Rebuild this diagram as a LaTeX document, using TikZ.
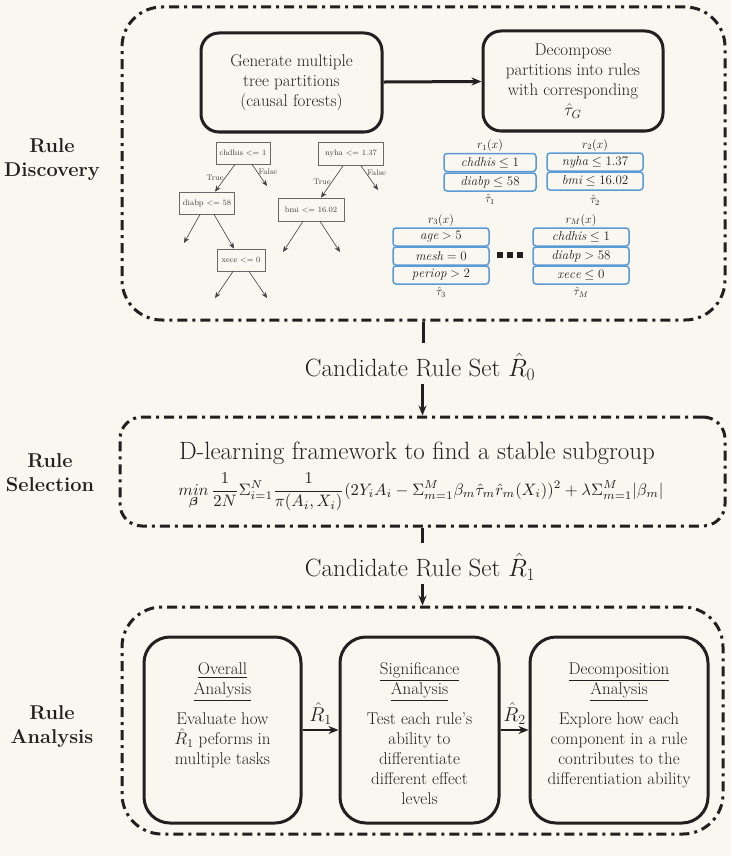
\documentclass[tikz,border=0pt]{standalone}
\usepackage{fix-cm}
\usepackage{amsmath}
\usepackage{amssymb}
\usepackage{graphicx}
\usepackage{fontspec}
\usetikzlibrary{arrows.meta,positioning}
\definecolor{paper}{RGB}{250,246,240}
\definecolor{ink}{RGB}{35,31,32}
\definecolor{rulebl}{RGB}{91,155,213}
\definecolor{treegray}{RGB}{105,105,105}

\begin{document}
\begin{tikzpicture}[x=1pt, y=-1pt, color=ink,
  phase frame/.style={draw=ink, line width=3pt, dash pattern=on 10pt off 5pt on 3pt off 5pt, rounded corners=40pt},
  phase label/.style={font=\fontsize{20}{24}\selectfont\bfseries, align=center},
  stage box/.style={draw=ink, line width=3pt, rounded corners=18pt, align=center, font=\fontsize{17}{20}\selectfont},
  stage text/.style={align=center, font=\fontsize{17}{20}\selectfont, inner sep=0pt},
  big text/.style={font=\fontsize{25}{30}\selectfont},
  split node/.style={draw=treegray, line width=0.8pt, font=\fontsize{8}{9}\selectfont, text=black!75, inner sep=0pt},
  split label/.style={font=\fontsize{8}{9}\selectfont, text=black!70, inner sep=1pt},
  split edge/.style={draw=black!75, line width=0.6pt, -{Stealth[length=6pt,width=5pt]}},
  rule box/.style={draw=rulebl, line width=1.5pt, rounded corners=3pt, minimum height=18pt, inner sep=0pt, font=\fontsize{13}{15}\selectfont},
  rule name/.style={font=\fontsize{12}{14}\selectfont, inner sep=1pt},
  flow arrow/.style={draw=ink, line width=2pt, -{Stealth[length=10pt,width=8pt]}},
]
\fill[paper] (0,0) rectangle (731,856);
\useasboundingbox (0,0) rectangle (731,856);

% the three phases
\node[phase frame, minimum width=603pt, minimum height=313pt] (disc) at (423.5,163.5) {};
\node[phase frame, minimum width=605pt, minimum height=109pt, rounded corners=22pt] (sel) at (422.5,471.5) {};
\node[phase frame, minimum width=601pt, minimum height=227pt] (ana) at (422.5,720.5) {};
\node[phase label] (discl) at (52,160) {Rule\\Discovery};
\node[phase label] (sell) at (50,473) {Rule\\Selection};
\node[phase label] (anal) at (52,727) {Rule\\Analysis};

% discovery
\node[stage box, minimum width=181pt, minimum height=99pt] (gen) at (291.5,82.5) {Generate multiple\\tree partitions\\(causal forests)};
\node[stage box, minimum width=180pt, minimum height=100pt] (dec) at (573,81) {Decompose\\partitions into rules\\with corresponding\\$\hat{\tau}_G$};
\draw[flow arrow, line width=3pt] (gen) -- (dec);

\node[split node, minimum width=54pt, minimum height=22pt] (chd) at (243,153) {chdhis <= 1};
\node[split node, minimum width=55pt, minimum height=22pt] (dia) at (207,203) {diabp <= 58};
\node[split node, minimum width=48pt, minimum height=22pt] (xec) at (241,260) {xece <= 0};
\node[split node, minimum width=65pt, minimum height=23pt] (nyh) at (351,154) {nyha <= 1.37};
\node[split node, minimum width=66pt, minimum height=23pt] (bmi) at (311,209.5) {bmi <= 16.02};
\coordinate (lf1) at (267,186);
\coordinate (lf2) at (184,243);
\coordinate (lf3) at (215,298);
\coordinate (lf4) at (267,298);
\coordinate (lf5) at (378,190);
\coordinate (lf6) at (283,252);
\coordinate (lf7) at (340,252);
\draw[split edge] ([xshift=-8pt]chd.south) -- node[split label, left] {True} ([xshift=8pt]dia.north);
\draw[split edge] ([xshift=9pt]chd.south) -- node[split label, pos=.35, right] {False} (lf1);
\draw[split edge] ([xshift=-7pt]dia.south) -- (lf2);
\draw[split edge] ([xshift=7pt]dia.south) -- ([xshift=-7pt]xec.north);
\draw[split edge] ([xshift=-8pt]xec.south) -- (lf3);
\draw[split edge] ([xshift=8pt]xec.south) -- (lf4);
\draw[split edge] ([xshift=-8pt]nyh.south) -- node[split label, left] {True} ([xshift=10pt]bmi.north);
\draw[split edge] ([xshift=10pt]nyh.south) -- node[split label, pos=.3, right] {False} (lf5);
\draw[split edge] ([xshift=-8pt]bmi.south) -- (lf6);
\draw[split edge] ([xshift=9pt]bmi.south) -- (lf7);

\node[rule box, minimum width=92pt] (r1a) at (490,162.5) {$\mathit{chdhis} \leq 1$};
\node[rule box, minimum width=92pt] (r1b) at (490,182) {$\mathit{diabp} \leq 58$};
\node[rule name, above=0pt of r1a] (r1n) {$r_1(x)$};
\node[rule name, below=1pt of r1b] (t1n) {$\hat{\tau}_1$};
\node[rule box, minimum width=96pt] (r2a) at (595,162) {$\mathit{nyha} \leq 1.37$};
\node[rule box, minimum width=96pt] (r2b) at (595,181) {$\mathit{bmi} \leq 16.02$};
\node[rule name, above=0pt of r2a] (r2n) {$r_2(x)$};
\node[rule name, below=3pt of r2b] (t2n) {$\hat{\tau}_2$};
\node[rule box, minimum width=96pt] (r3a) at (441,237) {$\mathit{age} > 5$};
\node[rule box, minimum width=96pt] (r3b) at (441,256) {$\mathit{mesh} = 0$};
\node[rule box, minimum width=96pt] (r3c) at (441,275) {$\mathit{periop} > 2$};
\node[rule name, above=0pt of r3a] (r3n) {$r_3(x)$};
\node[rule name, below=1pt of r3c] (t3n) {$\hat{\tau}_3$};
\node[rule box, minimum width=96pt] (rMa) at (581,237) {$\mathit{chdhis} \leq 1$};
\node[rule box, minimum width=96pt] (rMb) at (581,256) {$\mathit{diabp} > 58$};
\node[rule box, minimum width=96pt] (rMc) at (581,275) {$\mathit{xece} \leq 0$};
\node[rule name, above=0pt of rMa] (rMn) {$r_M(x)$};
\node[rule name, below=1pt of rMc] (tMn) {$\hat{\tau}_M$};
\node[inner sep=0pt] (dots) at (510,255) {\rule{6pt}{6pt}\hspace{4pt}\rule{6pt}{6pt}\hspace{4pt}\rule{6pt}{6pt}};

% selection
\node[big text] (cand0) at (420,367) {Candidate Rule Set $\hat{R}_0$};
\draw[line width=3pt, shorten >=7pt] (disc.south) -- (disc.south |- cand0.north);
\draw[flow arrow, line width=2.5pt] (cand0.south -| sel.north) -- (sel.north);
\node[big text] (dlt) at (417,453) {D-learning framework to find a stable subgroup};
\node[inner sep=0pt] (fml) at (421,492) {\resizebox{485pt}{!}{$\displaystyle \mathop{min}\limits_{\boldsymbol{\beta}}\frac{1}{2N}\Sigma_{i=1}^{N}\frac{1}{\pi(A_i,X_i)}(2Y_iA_i-\Sigma_{m=1}^{M}\beta_m\hat{\tau}_m\hat{r}_m(X_i))^2+\lambda\Sigma_{m=1}^{M}|\beta_m|$}};
\node[big text] (cand1) at (420,567) {Candidate Rule Set $\hat{R}_1$};
\draw[line width=3pt, shorten >=7pt] (sel.south) -- (sel.south |- cand1.north);
\draw[flow arrow, line width=2.5pt] (cand1.south -| ana.north) -- (ana.north);

% analysis
\node[stage box, rounded corners=26pt, minimum width=157pt, minimum height=186pt] (ovr) at (222.5,730) {};
\node[stage box, rounded corners=26pt, minimum width=159pt, minimum height=186pt] (sig) at (419.5,730) {};
\node[stage box, rounded corners=26pt, minimum width=178pt, minimum height=186pt] (dcp) at (619,730) {};
\node[stage text, below=27pt of ovr.north] (ovrt) {\underline{Overall}\\\underline{Analysis}\\[10pt]Evaluate how\\$\hat{R}_1$ peforms in\\multiple tasks};
\node[stage text, below=27pt of sig.north] (sigt) {\underline{Significance}\\\underline{Analysis}\\[10pt]Test each rule's\\ability to\\differentiate\\different effect\\levels};
\node[stage text, below=27pt of dcp.north] (dcpt) {\underline{Decomposition}\\\underline{Analysis}\\[10pt]Explore how each\\component in a rule\\contributes to the\\differentiation ability};
\draw[flow arrow] (ovr) -- node[above=1pt, font=\fontsize{20}{24}\selectfont] {$\hat{R}_1$} (sig);
\draw[flow arrow] (sig) -- node[above=1pt, font=\fontsize{20}{24}\selectfont] {$\hat{R}_2$} (dcp);
\end{tikzpicture}
\end{document}
